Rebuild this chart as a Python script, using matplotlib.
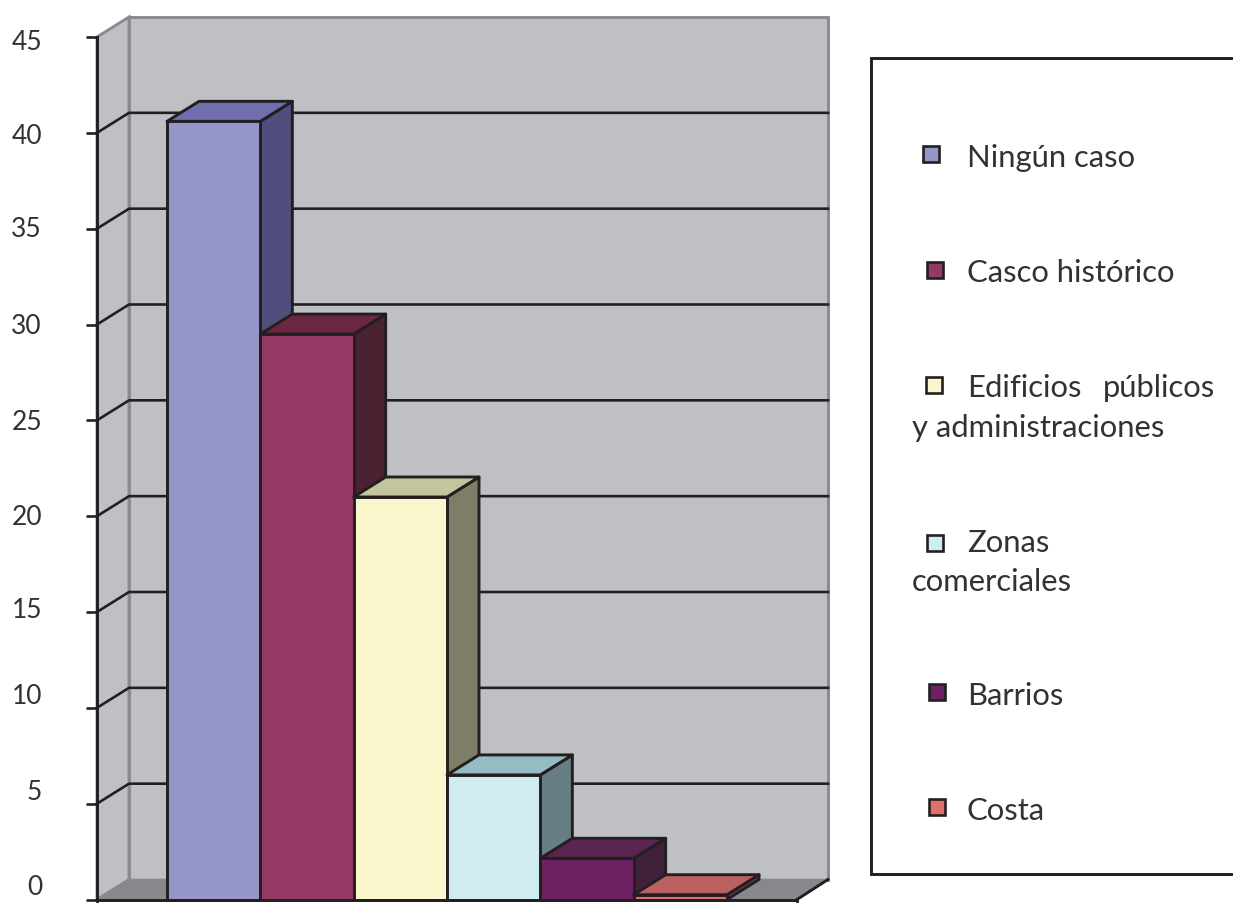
import matplotlib
matplotlib.use('Agg')
import matplotlib.pyplot as plt
from matplotlib.patches import Polygon, Rectangle
from matplotlib.transforms import Affine2D

plt.rcParams['font.family'] = ['Lato', 'DejaVu Sans']

categories = ['Ningún caso', 'Casco histórico', 'Edificios públicos y administraciones',
              'Zonas comerciales', 'Barrios', 'Costa']
values = [40.6, 29.5, 21.0, 6.5, 2.15, 0.25]
y_ticks = [0, 5, 10, 15, 20, 25, 30, 35, 40, 45]

front_colors = ['#9595C9', '#953A64', '#FBF7CC', '#CFECF1', '#6D2162', '#E0706A']
top_colors = ['#6F6FB0', '#6C2742', '#C4C4A0', '#96BBC2', '#5A2550', '#BB6060']
side_colors = ['#4F4E7C', '#4A2231', '#7E7D67', '#667E84', '#41203A', '#7A4040']

W, H = 1233, 904
INK = '#231F20'
TEXT = '#333132'
WALL = '#BFC0C4'
FLOOR = '#87888C'
WALL_EDGE = '#8A8B8F'
LW = 2.1

fig = plt.figure(figsize=(W / 100, H / 100), dpi=100)
ax = fig.add_axes([97 / W, (H - 900.5) / H, 700 / W, 862.5 / H])
ax.set_xlim(-0.75, 6.75)
ax.set_ylim(0, 45)

# depth of the fake 3d box, in data units
DX = 32 / (700 / 7.5)
DY = 20 / (862.5 / 45)
x0, x1 = ax.get_xlim()
wall_right = x1 + DX - 1 / (700 / 7.5)

# walls and floor
ax.add_patch(Polygon([(x0 + DX, DY), (wall_right, DY), (wall_right, 45 + DY), (x0 + DX, 45 + DY)],
                     fc=WALL, ec=WALL_EDGE, lw=LW, clip_on=False, zorder=1))
ax.add_patch(Polygon([(x0, 0), (x0 + DX, DY), (x0 + DX, 45 + DY), (x0, 45)],
                     fc=WALL, ec=WALL_EDGE, lw=LW, clip_on=False, zorder=1))
ax.add_patch(Polygon([(x0, 0), (x1, 0), (wall_right, DY), (x0 + DX, DY)],
                     fc=FLOOR, ec=WALL_EDGE, lw=1.2, clip_on=False, zorder=1))
ax.plot([x1, wall_right], [0, DY], color=INK, lw=LW, clip_on=False, zorder=2)

# gridlines run along the side wall and then the back wall
for v in y_ticks[1:-1]:
    ax.plot([x0, x0 + DX, wall_right], [v, v + DY, v + DY], color=INK, lw=LW * 0.9,
            clip_on=False, zorder=2)

# bars, left to right so each one covers the side of the previous one
for i, v in enumerate(values):
    z = 3 + i
    ax.add_patch(Polygon([(i + 1, 0), (i + 1 + DX, DY), (i + 1 + DX, v + DY), (i + 1, v)],
                         fc=side_colors[i], ec=INK, lw=LW, joinstyle='round', clip_on=False, zorder=z))
    ax.add_patch(Polygon([(i, v), (i + 1, v), (i + 1 + DX, v + DY), (i + DX, v + DY)],
                         fc=top_colors[i], ec=INK, lw=LW, joinstyle='round', clip_on=False, zorder=z))
    ax.bar(i + 0.5, v, width=1, color=front_colors[i], edgecolor=INK, lw=LW, clip_on=False, zorder=z)

# axes
for s in ['top', 'right']:
    ax.spines[s].set_visible(False)
for s in ['left', 'bottom']:
    ax.spines[s].set_color(INK)
    ax.spines[s].set_linewidth(LW)
    ax.spines[s].set_zorder(20)
ax.patch.set_visible(False)
ax.set_xticks([x0, x1])
ax.set_xticklabels([])
ax.set_yticks(y_ticks)
ax.set_yticklabels([])
ax.tick_params(axis='both', length=8, width=LW * 0.9, color=INK, direction='out')

# the tick labels in the picture do not sit evenly against the ticks
label_shift = [13, 12, 12, 2, 0, -1, -1, 0, -3, -4]
for v, shift in zip(y_ticks, label_shift):
    ax.annotate(str(v), xy=(x0, v), xytext=(-55, shift), textcoords='offset pixels',
                ha='right', va='center', fontsize=19, color=TEXT, annotation_clip=False)

# legend, placed in picture pixels
px = Affine2D().scale(1 / W, -1 / H).translate(0, 1) + fig.transFigure
fig.add_artist(Rectangle((871, 59), 400, 816, transform=px, fc='white', ec=INK, lw=LW))

marker_x = [931, 935, 934, 935, 937, 937]
marker_y = [155, 271, 386, 544, 693, 808]
for mx, my, c in zip(marker_x, marker_y, front_colors):
    fig.add_artist(Rectangle((mx - 8, my - 8), 16, 16, transform=px, fc=c, ec=INK, lw=LW * 0.9))

legend_lines = [('Ningún caso', 967, 158), ('Casco histórico', 967, 273),
                ('Edificios', 967, 388), ('públicos', 1103, 388),
                ('y administraciones', 912, 428), ('Zonas', 967, 543),
                ('comerciales', 912, 582), ('Barrios', 967, 696), ('Costa', 967, 811)]
for label, tx, ty in legend_lines:
    fig.text(tx, ty, label, transform=px, ha='left', va='center', fontsize=22.3, color=TEXT)

fig.savefig('out.png', dpi=100)
